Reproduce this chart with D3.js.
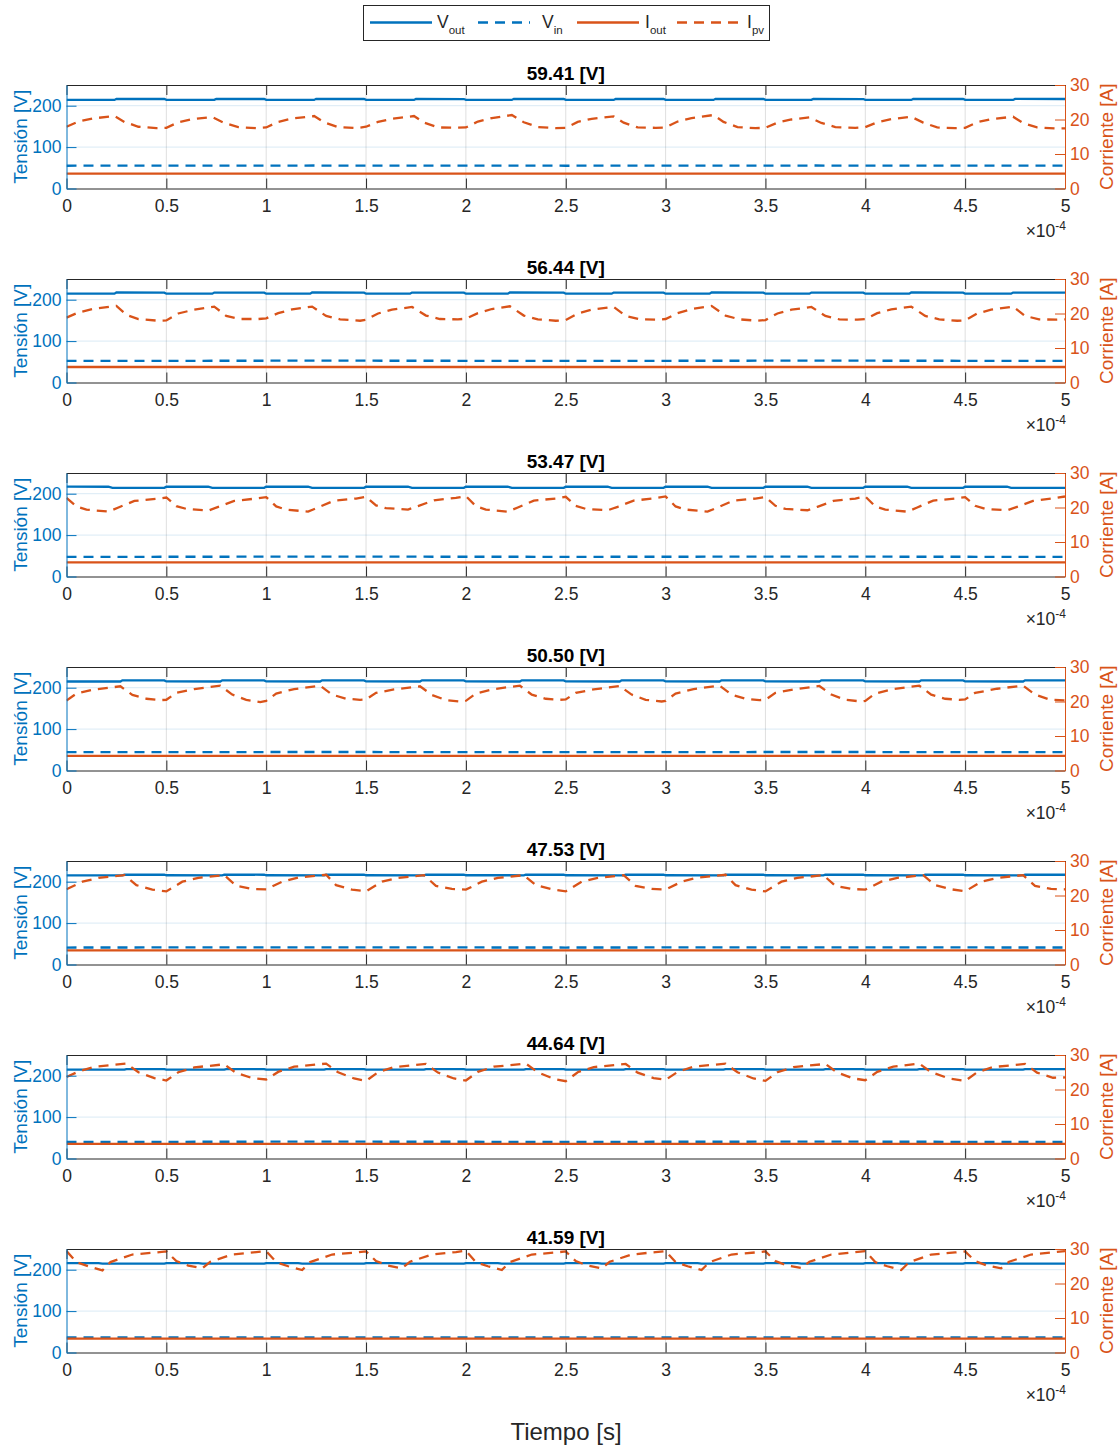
<!DOCTYPE html>
<html><head><meta charset="utf-8">
<script src="https://cdn.jsdelivr.net/npm/d3@7"></script>
<style>
body{margin:0;background:#fff}
svg{display:block}
text{font-family:"Liberation Sans",Arial,Helvetica,sans-serif}
</style>
</head><body>
<svg id="chart" width="1120" height="1449"></svg>
<script>
// ---------------- DATA (time in units of 1e-4 s) ----------------
const titles = ["59.41 [V]","56.44 [V]","53.47 [V]","50.50 [V]","47.53 [V]","44.64 [V]","41.59 [V]"];
const xTicks = [0,0.5,1,1.5,2,2.5,3,3.5,4,4.5,5];
const xTickLabels = ["0","0.5","1","1.5","2","2.5","3","3.5","4","4.5","5"];
const voltTicks = [0,100,200];
const currTicks = [0,10,20,30];
const legendNames = [["V","out"],["V","in"],["I","out"],["I","pv"]];

const vout1 = [[0,214.0],[0.24,214.0],[0.25,216.5],[0.49,216.2],[0.5,214.2],[0.74,214.0],[0.75,216.4],[0.99,216.2],[1.0,214.1],[1.24,214.0],[1.25,216.6],[1.49,216.2],[1.5,214.1],[1.74,214.0],[1.75,216.5],[1.99,216.1],[2.0,214.2],[2.23,214.0],[2.24,216.6],[2.49,216.2],[2.5,214.1],[2.74,214.0],[2.75,216.5],[2.99,216.2],[3.0,214.1],[3.24,214.0],[3.25,216.6],[3.49,216.2],[3.5,214.1],[3.73,214.0],[3.74,216.4],[3.99,216.1],[4.0,214.1],[4.23,214.0],[4.24,216.5],[4.49,216.2],[4.5,214.1],[4.74,214.0],[4.75,216.5],[5.0,216.2]];
const vout2 = [[0,214.5],[0.24,214.5],[0.25,217.4],[0.49,217.0],[0.5,214.6],[0.73,214.5],[0.74,217.3],[0.99,217.0],[1.0,214.6],[1.22,214.5],[1.23,217.4],[1.49,217.0],[1.5,214.6],[1.72,214.5],[1.73,217.3],[1.99,217.0],[2.0,214.6],[2.21,214.5],[2.22,217.4],[2.49,217.0],[2.5,214.6],[2.73,214.5],[2.74,217.3],[2.99,217.0],[3.0,214.6],[3.22,214.5],[3.23,217.4],[3.49,217.0],[3.5,214.6],[3.72,214.5],[3.73,217.3],[3.99,217.0],[4.0,214.6],[4.22,214.5],[4.23,217.4],[4.49,217.0],[4.5,214.6],[4.73,214.5],[4.74,217.3],[5.0,217.0]];
const vout3 = [[0,217.0],[0.21,216.8],[0.23,214.0],[0.49,214.2],[0.5,217.0],[0.71,216.8],[0.73,214.1],[0.99,214.2],[1.0,217.1],[1.21,216.8],[1.23,214.0],[1.49,214.2],[1.5,217.0],[1.71,216.8],[1.73,214.1],[1.99,214.2],[2.0,217.2],[2.21,216.8],[2.23,214.0],[2.49,214.2],[2.5,217.0],[2.71,216.8],[2.73,214.1],[2.99,214.2],[3.0,217.1],[3.21,216.8],[3.23,214.0],[3.49,214.2],[3.5,217.0],[3.71,216.8],[3.73,214.1],[3.99,214.2],[4.0,217.1],[4.21,216.8],[4.23,214.0],[4.49,214.2],[4.5,217.0],[4.71,216.8],[4.73,214.1],[5.0,214.2]];
const vout4 = [[0,215.0],[0.27,215.0],[0.28,217.8],[0.49,217.5],[0.5,215.1],[0.77,215.0],[0.78,217.8],[0.99,217.5],[1.0,215.1],[1.27,215.0],[1.28,217.8],[1.49,217.5],[1.5,215.1],[1.77,215.0],[1.78,217.8],[1.99,217.5],[2.0,215.1],[2.27,215.0],[2.28,217.8],[2.49,217.5],[2.5,215.1],[2.77,215.0],[2.78,217.8],[2.99,217.5],[3.0,215.1],[3.27,215.0],[3.28,217.8],[3.49,217.5],[3.5,215.1],[3.77,215.0],[3.78,217.8],[3.99,217.5],[4.0,215.1],[4.27,215.0],[4.28,217.8],[4.49,217.5],[4.5,215.1],[4.79,215.0],[4.80,217.8],[5.0,217.5]];
const vout5 = [[0,215.5],[0.28,215.5],[0.29,217.0],[0.49,216.8],[0.5,215.6],[0.78,215.5],[0.79,217.0],[0.99,216.8],[1.0,215.6],[1.29,215.5],[1.30,217.0],[1.49,216.8],[1.5,215.6],[1.79,215.5],[1.80,217.0],[1.99,216.8],[2.0,215.6],[2.29,215.5],[2.30,217.0],[2.49,216.8],[2.5,215.6],[2.79,215.5],[2.80,217.0],[2.99,216.8],[3.0,215.6],[3.29,215.5],[3.30,217.0],[3.49,216.8],[3.5,215.6],[3.79,215.5],[3.80,217.0],[3.99,216.8],[4.0,215.6],[4.29,215.5],[4.30,217.0],[4.49,216.8],[4.5,215.6],[4.79,215.5],[4.80,217.0],[5.0,216.8]];
const vout6 = [[0,214.6],[0.29,214.5],[0.30,216.0],[0.49,215.8],[0.5,214.6],[0.79,214.5],[0.80,216.0],[0.99,215.8],[1.0,214.6],[1.29,214.5],[1.30,216.0],[1.49,215.8],[1.5,214.6],[1.79,214.5],[1.80,216.0],[1.99,215.8],[2.0,214.6],[2.29,214.5],[2.30,216.0],[2.49,215.8],[2.5,214.6],[2.79,214.5],[2.80,216.0],[2.99,215.8],[3.0,214.6],[3.29,214.5],[3.30,216.0],[3.49,215.8],[3.5,214.6],[3.79,214.5],[3.80,216.0],[3.99,215.8],[4.0,214.6],[4.26,214.5],[4.27,216.0],[4.49,215.8],[4.5,214.6],[4.79,214.5],[4.80,216.0],[5.0,215.8]];
const vout7 = [[0,216.0],[0.16,215.8],[0.18,214.5],[0.49,214.6],[0.5,216.0],[0.66,215.8],[0.68,214.5],[0.99,214.6],[1.0,216.0],[1.16,215.8],[1.18,214.5],[1.49,214.6],[1.5,216.0],[1.66,215.8],[1.68,214.5],[1.99,214.6],[2.0,216.0],[2.16,215.8],[2.18,214.5],[2.49,214.6],[2.5,216.0],[2.66,215.8],[2.68,214.5],[2.99,214.6],[3.0,216.0],[3.16,215.8],[3.18,214.5],[3.49,214.6],[3.5,216.0],[3.66,215.8],[3.68,214.5],[3.99,214.6],[4.0,216.0],[4.16,215.8],[4.18,214.5],[4.49,214.6],[4.5,216.0],[4.66,215.8],[4.68,214.5],[5.0,214.6]];

const vin1 = [[0,55.0],[1.25,55.5],[2.5,55.0],[3.75,55.5],[5,55.1]];
const vin2 = [[0,52.2],[1.25,52.7],[2.5,52.3],[3.75,52.7],[5,52.3]];
const vin3 = [[0,47.5],[1.25,47.9],[2.5,47.6],[3.75,47.9],[5,47.5]];
const vin4 = [[0,44.3],[1.25,44.7],[2.5,44.4],[3.75,44.7],[5,44.4]];
const vin5 = [[0,41.0],[1.25,41.4],[2.5,41.0],[3.75,41.4],[5,41.0]];
const vin6 = [[0,40.2],[1.25,40.6],[2.5,40.3],[3.75,40.6],[5,40.2]];
const vin7 = [[0,36.4],[1.25,36.7],[2.5,36.4],[3.75,36.7],[5,36.4]];

const iout1 = [[0,4.30],[5,4.30]];
const iout2 = [[0,4.50],[5,4.50]];
const iout3 = [[0,4.10],[5,4.10]];
const iout4 = [[0,4.25],[5,4.25]];
const iout5 = [[0,4.10],[5,4.10]];
const iout6 = [[0,4.25],[5,4.25]];
const iout7 = [[0,4.00],[5,4.00]];

const ipv1 = [[0,17.9],[0.06,19.4],[0.13,20.3],[0.24,21.0],[0.29,19.3],[0.36,17.9],[0.45,17.5],
[0.5,17.6],[0.56,19.2],[0.63,20.1],[0.73,20.7],[0.79,19.0],[0.86,17.8],[0.95,17.5],
[1.0,17.7],[1.06,19.3],[1.13,20.3],[1.24,21.0],[1.29,19.2],[1.36,17.8],[1.45,17.5],
[1.5,17.9],[1.56,19.3],[1.63,20.2],[1.74,21.0],[1.79,19.1],[1.86,17.7],[1.95,17.6],
[2.0,17.7],[2.06,19.4],[2.13,20.4],[2.23,21.3],[2.29,19.2],[2.36,17.8],[2.45,17.5],
[2.5,17.6],[2.56,19.3],[2.63,20.2],[2.74,20.9],[2.79,19.1],[2.86,17.7],[2.95,17.6],
[3.0,17.7],[3.06,19.4],[3.13,20.4],[3.24,21.3],[3.29,19.3],[3.36,17.8],[3.45,17.5],
[3.5,17.6],[3.56,19.1],[3.63,20.0],[3.72,20.6],[3.78,19.0],[3.85,17.8],[3.95,17.6],
[4.0,17.8],[4.06,19.2],[4.13,20.1],[4.23,20.8],[4.29,19.1],[4.36,17.7],[4.45,17.5],
[4.5,17.6],[4.56,19.2],[4.63,20.1],[4.74,20.8],[4.79,19.0],[4.86,17.7],[4.95,17.4],[5.0,17.4]];
const ipv2 = [[0,18.8],[0.06,20.3],[0.13,21.3],[0.25,22.2],[0.30,19.6],[0.36,18.4],[0.46,17.9],
[0.5,18.0],[0.56,20.0],[0.63,21.0],[0.74,22.0],[0.80,19.3],[0.87,18.4],[0.96,18.4],
[1.0,18.6],[1.06,20.1],[1.13,21.2],[1.23,22.0],[1.30,19.3],[1.37,18.3],[1.47,17.9],
[1.5,18.2],[1.56,20.0],[1.63,21.1],[1.73,21.9],[1.80,19.4],[1.87,18.4],[1.96,18.3],
[2.0,18.5],[2.06,20.1],[2.13,21.3],[2.22,22.1],[2.29,19.4],[2.36,18.3],[2.45,17.9],
[2.5,18.1],[2.56,20.0],[2.63,21.1],[2.74,21.9],[2.80,19.3],[2.87,18.3],[2.96,18.2],
[3.0,18.4],[3.06,20.1],[3.13,21.3],[3.23,22.2],[3.30,19.4],[3.37,18.3],[3.46,17.9],
[3.5,18.1],[3.56,20.0],[3.63,21.1],[3.73,21.9],[3.80,19.3],[3.87,18.3],[3.96,18.2],
[4.0,18.4],[4.06,20.1],[4.13,21.2],[4.23,22.0],[4.30,19.3],[4.37,18.3],[4.46,17.9],
[4.5,18.0],[4.56,20.0],[4.63,21.1],[4.74,22.0],[4.80,19.3],[4.87,18.3],[4.96,18.2],[5.0,18.3]];
const ipv3 = [[0,22.8],[0.05,20.3],[0.10,19.4],[0.21,18.8],[0.26,20.0],[0.34,21.9],[0.45,22.5],
[0.5,22.9],[0.55,20.4],[0.60,19.6],[0.71,19.1],[0.76,20.2],[0.84,21.9],[0.95,22.6],
[1.0,23.0],[1.05,20.3],[1.10,19.4],[1.21,18.8],[1.26,20.0],[1.34,22.0],[1.45,22.6],
[1.5,23.1],[1.55,20.6],[1.60,19.8],[1.71,19.4],[1.76,20.4],[1.84,22.1],[1.95,22.8],
[2.0,23.3],[2.05,20.4],[2.10,19.4],[2.21,18.8],[2.26,20.0],[2.34,22.0],[2.45,22.6],
[2.5,23.1],[2.55,20.5],[2.60,19.6],[2.71,19.2],[2.76,20.2],[2.84,22.0],[2.95,22.7],
[3.0,23.2],[3.05,20.3],[3.10,19.4],[3.21,18.8],[3.26,20.0],[3.34,22.0],[3.45,22.6],
[3.5,23.0],[3.55,20.5],[3.60,19.6],[3.71,19.2],[3.76,20.2],[3.84,21.9],[3.95,22.6],
[4.0,23.2],[4.05,20.3],[4.10,19.4],[4.21,18.8],[4.26,20.0],[4.34,22.0],[4.45,22.6],
[4.5,23.0],[4.55,20.5],[4.60,19.6],[4.71,19.2],[4.76,20.2],[4.84,21.9],[4.95,22.7],[5.0,23.2]];
const ipv4 = [[0,20.3],[0.05,22.3],[0.14,23.5],[0.27,24.4],[0.33,21.9],[0.40,20.8],[0.47,20.4],
[0.5,20.5],[0.55,22.5],[0.64,23.6],[0.77,24.6],[0.83,22.0],[0.90,20.5],[0.97,19.8],
[1.0,20.2],[1.05,22.3],[1.14,23.6],[1.27,24.6],[1.33,22.0],[1.40,20.8],[1.47,20.5],
[1.5,20.6],[1.55,22.5],[1.64,23.5],[1.77,24.4],[1.83,21.9],[1.90,20.4],[1.98,19.9],
[2.0,20.2],[2.05,22.3],[2.14,23.6],[2.27,24.6],[2.33,22.0],[2.40,20.8],[2.47,20.5],
[2.5,20.6],[2.55,22.5],[2.64,23.5],[2.77,24.5],[2.83,22.0],[2.90,20.5],[2.98,20.0],
[3.0,20.2],[3.05,22.3],[3.14,23.6],[3.27,24.6],[3.33,22.0],[3.40,20.8],[3.47,20.4],
[3.5,20.5],[3.55,22.5],[3.64,23.5],[3.77,24.5],[3.83,22.0],[3.90,20.5],[3.98,20.0],
[4.0,20.2],[4.05,22.3],[4.14,23.6],[4.27,24.6],[4.33,22.0],[4.40,20.8],[4.47,20.5],
[4.5,20.6],[4.55,22.5],[4.66,23.7],[4.79,24.6],[4.85,22.0],[4.92,20.6],[5.0,20.3]];
const ipv5 = [[0,21.8],[0.08,24.0],[0.16,25.1],[0.29,25.9],[0.35,23.0],[0.43,21.7],
[0.5,21.2],[0.58,24.0],[0.66,25.1],[0.79,25.9],[0.85,22.8],[0.93,21.9],
[1.0,21.8],[1.08,24.0],[1.16,25.2],[1.30,26.0],[1.35,23.0],[1.43,21.7],
[1.5,21.2],[1.58,24.0],[1.66,25.1],[1.79,25.9],[1.85,22.8],[1.93,21.9],
[2.0,21.7],[2.08,24.0],[2.16,25.1],[2.29,25.9],[2.35,23.0],[2.43,21.8],
[2.5,21.2],[2.58,24.0],[2.66,25.1],[2.79,25.9],[2.85,22.8],[2.93,21.9],
[3.0,21.7],[3.08,24.0],[3.16,25.2],[3.30,26.0],[3.35,23.0],[3.43,21.7],
[3.5,21.2],[3.58,24.0],[3.66,25.1],[3.79,25.9],[3.85,22.8],[3.93,21.9],
[4.0,21.7],[4.08,24.0],[4.16,25.1],[4.29,25.9],[4.35,23.0],[4.43,21.8],
[4.5,21.2],[4.58,24.0],[4.66,25.1],[4.79,25.9],[4.85,22.8],[4.93,21.9],[5.0,21.8]];
const ipv6 = [[0,23.6],[0.06,25.2],[0.14,26.6],[0.30,27.5],[0.36,25.0],[0.44,23.3],
[0.5,22.6],[0.56,25.0],[0.64,26.4],[0.79,27.3],[0.85,24.8],[0.93,23.3],
[1.0,22.9],[1.06,25.1],[1.14,26.6],[1.30,27.5],[1.36,25.0],[1.44,23.2],
[1.5,22.5],[1.56,25.0],[1.64,26.5],[1.80,27.4],[1.86,24.9],[1.94,23.2],
[2.0,22.6],[2.06,25.1],[2.14,26.6],[2.30,27.5],[2.36,25.0],[2.44,23.1],
[2.5,22.4],[2.56,25.0],[2.64,26.5],[2.80,27.4],[2.86,24.9],[2.94,23.3],
[3.0,22.8],[3.06,25.1],[3.14,26.6],[3.30,27.5],[3.36,25.0],[3.44,23.2],
[3.5,22.5],[3.56,25.0],[3.64,26.5],[3.80,27.4],[3.86,24.9],[3.94,23.2],
[4.0,22.7],[4.06,25.1],[4.14,26.6],[4.27,27.5],[4.33,25.0],[4.42,23.2],
[4.5,22.5],[4.56,25.0],[4.64,26.5],[4.80,27.4],[4.86,24.9],[4.94,23.4],[5.0,23.5]];
const ipv7 = [[0,29.4],[0.05,26.2],[0.11,25.0],[0.18,23.8],[0.22,26.2],[0.33,28.4],[0.45,29.0],
[0.5,29.3],[0.55,26.5],[0.61,25.2],[0.68,24.4],[0.72,26.3],[0.83,28.4],[0.95,29.1],
[1.0,29.4],[1.05,26.2],[1.11,25.0],[1.18,23.9],[1.22,26.2],[1.33,28.4],[1.45,29.0],
[1.5,29.3],[1.55,26.5],[1.61,25.2],[1.68,24.4],[1.72,26.3],[1.83,28.4],[1.95,29.1],
[2.0,29.5],[2.05,26.2],[2.11,25.0],[2.18,23.9],[2.22,26.2],[2.33,28.4],[2.45,29.0],
[2.5,29.3],[2.55,26.5],[2.61,25.2],[2.68,24.4],[2.72,26.3],[2.83,28.4],[2.95,29.1],
[3.0,29.4],[3.05,26.2],[3.11,25.0],[3.18,23.9],[3.22,26.2],[3.33,28.4],[3.45,29.0],
[3.5,29.3],[3.55,26.5],[3.61,25.2],[3.68,24.5],[3.72,26.3],[3.83,28.4],[3.95,29.1],
[4.0,29.4],[4.05,26.2],[4.11,25.0],[4.18,23.9],[4.22,26.2],[4.33,28.4],[4.45,29.0],
[4.5,29.3],[4.55,26.5],[4.61,25.2],[4.68,24.4],[4.72,26.3],[4.83,28.4],[4.95,29.1],[5.0,29.4]];

// ---------------- LAYOUT ----------------
const BLUE = "#0072BD", ORANGE = "#D95319", INK = "#262626";
const X0 = 66.5, X1 = 1065;
const panelTops = [85, 279, 473, 667, 861, 1055, 1249];
const PH = 103.5;
const DASH = "10,7";
const LW = 2.3;

const panels = [
  {title: titles[0], vout: vout1, vin: vin1, iout: iout1, ipv: ipv1},
  {title: titles[1], vout: vout2, vin: vin2, iout: iout2, ipv: ipv2},
  {title: titles[2], vout: vout3, vin: vin3, iout: iout3, ipv: ipv3},
  {title: titles[3], vout: vout4, vin: vin4, iout: iout4, ipv: ipv4},
  {title: titles[4], vout: vout5, vin: vin5, iout: iout5, ipv: ipv5},
  {title: titles[5], vout: vout6, vin: vin6, iout: iout6, ipv: ipv6},
  {title: titles[6], vout: vout7, vin: vin7, iout: iout7, ipv: ipv7}
];

const svg = d3.select("#chart");
const x = d3.scaleLinear().domain([0, 5]).range([X0, X1]);

panels.forEach((p, i) => {
  const top = panelTops[i], bot = top + PH;
  const yV = d3.scaleLinear().domain([0, 250]).range([bot, top]);
  const yI = d3.scaleLinear().domain([0, 30]).range([bot, top]);
  const g = svg.append("g");

  const clipId = "clip" + i;
  svg.append("clipPath").attr("id", clipId).append("rect")
    .attr("x", X0).attr("y", top - 1).attr("width", X1 - X0).attr("height", PH + 1);

  // grid
  g.append("g").selectAll("line").data(xTicks.filter(t => t > 0 && t < 5)).join("line")
    .attr("x1", d => x(d)).attr("x2", d => x(d)).attr("y1", top).attr("y2", bot)
    .attr("stroke", INK).attr("stroke-opacity", 0.15).attr("stroke-width", 1);
  g.append("g").selectAll("line").data(voltTicks.filter(t => t > 0)).join("line")
    .attr("x1", X0).attr("x2", X1).attr("y1", d => yV(d)).attr("y2", d => yV(d))
    .attr("stroke", BLUE).attr("stroke-opacity", 0.15).attr("stroke-width", 1);

  // lines
  const lineV = d3.line().x(d => x(d[0])).y(d => yV(d[1]));
  const lineI = d3.line().x(d => x(d[0])).y(d => yI(d[1]));
  const lg = g.append("g").attr("clip-path", `url(#${clipId})`).attr("fill", "none");
  lg.append("path").attr("d", lineV(p.vout)).attr("stroke", BLUE).attr("stroke-width", LW);
  lg.append("path").attr("d", lineV(p.vin)).attr("stroke", BLUE).attr("stroke-width", LW).attr("stroke-dasharray", DASH);
  lg.append("path").attr("d", lineI(p.iout)).attr("stroke", ORANGE).attr("stroke-width", LW);
  lg.append("path").attr("d", lineI(p.ipv)).attr("stroke", ORANGE).attr("stroke-width", LW).attr("stroke-dasharray", DASH);

  // axes
  const fs = "17.5px";
  const ax = g.append("g").attr("transform", `translate(0,${bot})`)
    .call(d3.axisBottom(x).tickValues(xTicks).tickFormat((d, k) => xTickLabels[k]).tickSizeInner(-10).tickSizeOuter(0).tickPadding(11));
  const at = g.append("g").attr("transform", `translate(0,${top})`)
    .call(d3.axisTop(x).tickValues(xTicks).tickFormat("").tickSizeInner(-10).tickSizeOuter(0));
  [ax, at].forEach(a => {
    a.select(".domain").attr("stroke", INK).attr("stroke-width", 1);
    a.selectAll(".tick line").attr("stroke", INK);
    a.selectAll("text").attr("fill", INK).style("font-size", fs).attr("font-family", null);
  });
  const al = g.append("g").attr("transform", `translate(${X0},0)`)
    .call(d3.axisLeft(yV).tickValues(voltTicks).tickSizeInner(-10).tickSizeOuter(0).tickPadding(5));
  al.select(".domain").attr("stroke", BLUE);
  al.selectAll(".tick line").attr("stroke", BLUE);
  al.selectAll("text").attr("fill", BLUE).style("font-size", fs).attr("font-family", null);
  const ar = g.append("g").attr("transform", `translate(${X1},0)`)
    .call(d3.axisRight(yI).tickValues(currTicks).tickSizeInner(-10).tickSizeOuter(0).tickPadding(5));
  ar.select(".domain").attr("stroke", ORANGE);
  ar.selectAll(".tick line").attr("stroke", ORANGE);
  ar.selectAll("text").attr("fill", ORANGE).style("font-size", fs).attr("font-family", null);

  // title
  g.append("text").attr("x", (X0 + X1) / 2).attr("y", top - 5)
    .attr("text-anchor", "middle").attr("font-weight", "bold").style("font-size", "19px")
    .attr("fill", "#000").text(p.title);

  // y labels
  g.append("text").attr("transform", `translate(20,${top + PH / 2}) rotate(-90)`)
    .attr("text-anchor", "middle").attr("dominant-baseline", "central")
    .style("font-size", "19px").attr("fill", BLUE).text("Tensión [V]");
  g.append("text").attr("transform", `translate(1106,${top + PH / 2}) rotate(-90)`)
    .attr("text-anchor", "middle").attr("dominant-baseline", "central")
    .style("font-size", "19px").attr("fill", ORANGE).text("Corriente [A]");

  // exponent label
  const ex = g.append("text").attr("x", 1066).attr("y", bot + 48)
    .attr("text-anchor", "end").style("font-size", "17.5px").attr("fill", INK);
  ex.append("tspan").text("\u00d710");
  ex.append("tspan").attr("dy", -7).style("font-size", "12px").text("-4");
});

// x label
svg.append("text").attr("x", 566).attr("y", 1440).attr("text-anchor", "middle")
  .style("font-size", "24px").attr("fill", INK).text("Tiempo [s]");

// legend
const leg = svg.append("g");
leg.append("rect").attr("x", 363.5).attr("y", 5.5).attr("width", 406).attr("height", 35)
  .attr("fill", "#fff").attr("stroke", INK).attr("stroke-width", 1);
const legItems = [
  {x1: 370, x2: 432, tx: 437, color: BLUE, dash: null},
  {x1: 478, x2: 530, tx: 542, color: BLUE, dash: DASH},
  {x1: 577, x2: 639, tx: 645, color: ORANGE, dash: null},
  {x1: 677, x2: 740, tx: 747, color: ORANGE, dash: DASH}
];
legItems.forEach((it, k) => {
  leg.append("line").attr("x1", it.x1).attr("x2", it.x2).attr("y1", 22.5).attr("y2", 22.5)
    .attr("stroke", it.color).attr("stroke-width", LW).attr("stroke-dasharray", it.dash);
  const t = leg.append("text").attr("x", it.tx).attr("y", 28.3).style("font-size", "17.5px").attr("fill", INK);
  t.append("tspan").text(legendNames[k][0]);
  t.append("tspan").attr("dy", 6).style("font-size", "11.5px").text(legendNames[k][1]);
});
</script>
</body></html>
